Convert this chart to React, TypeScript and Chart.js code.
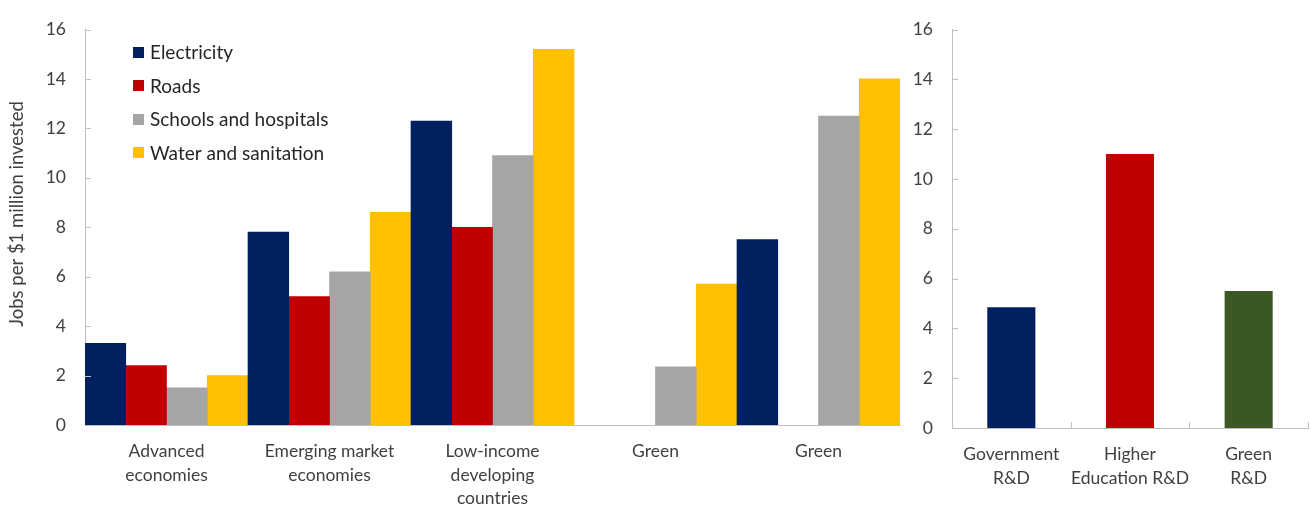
import React, { useEffect, useRef } from "react";
import { Chart, registerables } from "chart.js";

Chart.register(...registerables);

// ---- data ----
const sectorCategories: (string | string[])[] = [
  ["Advanced", "economies"],
  ["Emerging market", "economies"],
  ["Low-income", "developing", "countries"],
  "Green",
  "Green",
];
const electricity: (number | null)[] = [3.3, 7.8, 12.3, null, 7.5];
const roads: (number | null)[] = [2.4, 5.2, 8.0, null, null];
const schoolsHospitals: (number | null)[] = [1.5, 6.2, 10.9, 2.35, 12.5];
const waterSanitation: (number | null)[] = [2.0, 8.6, 15.2, 5.7, 14.0];

const rdCategories: string[][] = [
  ["Government", "R&D"],
  ["Higher", "Education R&D"],
  ["Green", "R&D"],
];
const rdValues: number[] = [4.85, 11.0, 5.5];

const yAxisTitle = "Jobs per $1 million invested";
const yTicksMax = 16;
const yTicksStep = 2;

// ---- styles ----
const NAVY = "#002060";
const RED = "#C00000";
const GREY = "#A5A5A5";
const GOLD = "#FFC000";
const GREEN = "#3A5724";
const AXIS = "#BFBFBF";
const TEXT = "#404040";
const FONT = "Lato, 'Open Sans', sans-serif";

// Tick marks drawn inward from the axes, like a spreadsheet chart.
const insideTicks = {
  id: "insideTicks",
  afterDatasetsDraw(chart: any, _args: any, opts: any) {
    const { ctx } = chart;
    const len = opts.length ?? 6;
    ctx.save();
    ctx.strokeStyle = opts.color ?? AXIS;
    ctx.lineWidth = 1;
    const y = chart.scales.y;
    if (opts.y) {
      y.ticks.forEach((_t: any, i: number) => {
        const py = Math.round(y.getPixelForTick(i)) + 0.5;
        ctx.beginPath();
        ctx.moveTo(y.right, py);
        ctx.lineTo(y.right + len, py);
        ctx.stroke();
      });
    }
    if (opts.xBoundaries) {
      const x = chart.scales.x;
      const n = x.ticks.length;
      for (let i = 1; i <= n; i++) {
        const px = Math.round(x.getPixelForValue(i - 0.5)) + 0.5;
        ctx.beginPath();
        ctx.moveTo(px, x.top);
        ctx.lineTo(px, x.top - len);
        ctx.stroke();
      }
    }
    ctx.restore();
  },
};

// Rotated y-axis title, placed in the left margin.
const sideTitle = {
  id: "sideTitle",
  afterDraw(chart: any, _args: any, opts: any) {
    if (!opts || !opts.text) return;
    const { ctx } = chart;
    ctx.save();
    ctx.translate(opts.x, opts.y);
    ctx.rotate(-Math.PI / 2);
    ctx.font = `${opts.fontSize}px ${FONT}`;
    ctx.fillStyle = opts.color;
    ctx.textAlign = "center";
    ctx.textBaseline = "middle";
    ctx.fillText(opts.text, 0, 0);
    ctx.restore();
  },
};

// Legend drawn as a column of squares inside the plot area.
const boxLegend = {
  id: "boxLegend",
  afterDraw(chart: any, _args: any, opts: any) {
    if (!opts || !opts.display) return;
    const { ctx } = chart;
    ctx.save();
    ctx.font = `${opts.fontSize}px ${FONT}`;
    ctx.textBaseline = "middle";
    ctx.textAlign = "left";
    chart.data.datasets.forEach((ds: any, i: number) => {
      const cy = opts.top + i * opts.rowGap;
      ctx.fillStyle = ds.backgroundColor;
      ctx.fillRect(opts.left, Math.round(cy - opts.box / 2), opts.box, opts.box);
      ctx.fillStyle = opts.color;
      ctx.fillText(ds.label, opts.left + opts.box + opts.gap, cy + 1);
    });
    ctx.restore();
  },
};

function yScale(width: number) {
  return {
    min: 0,
    max: yTicksMax,
    ticks: {
      stepSize: yTicksStep,
      color: TEXT,
      font: { family: FONT, size: 17.5 },
      padding: 19,
    },
    grid: { display: false, drawTicks: false },
    border: { display: true, color: AXIS, width: 1 },
    afterFit(scale: any) {
      scale.width = width;
    },
  };
}

function xScale(height: number) {
  return {
    offset: true,
    ticks: {
      color: TEXT,
      font: { family: FONT, size: 17.5, lineHeight: 1.33 },
      padding: 15,
      maxRotation: 0,
      autoSkip: false,
    },
    grid: { display: false, drawTicks: false },
    border: { display: true, color: AXIS, width: 1 },
    afterFit(scale: any) {
      scale.height = height;
    },
  };
}

export default function App() {
  const leftRef = useRef<HTMLCanvasElement | null>(null);
  const rightRef = useRef<HTMLCanvasElement | null>(null);

  useEffect(() => {
    document.body.style.margin = "0";
    document.body.style.background = "#ffffff";

    const left = new Chart(leftRef.current!, {
      type: "bar",
      data: {
        labels: sectorCategories,
        datasets: [
          { label: "Electricity", data: electricity, backgroundColor: NAVY },
          { label: "Roads", data: roads, backgroundColor: RED },
          { label: "Schools and hospitals", data: schoolsHospitals, backgroundColor: GREY },
          { label: "Water and sanitation", data: waterSanitation, backgroundColor: GOLD },
        ],
      },
      options: {
        animation: false,
        responsive: false,
        maintainAspectRatio: false,
        layout: { padding: { top: 27, right: 10, left: 0, bottom: 0 } },
        datasets: {
          bar: { barPercentage: 1, categoryPercentage: 1, borderWidth: 0 },
        },
        scales: {
          x: xScale(82) as any,
          y: yScale(85) as any,
        },
        plugins: {
          legend: { display: false },
          tooltip: { enabled: false },
          insideTicks: { y: true, xBoundaries: false, length: 6, color: AXIS },
          sideTitle: { text: yAxisTitle, x: 17, y: 214, fontSize: 18.5, color: TEXT },
          boxLegend: {
            display: true,
            left: 133,
            top: 52,
            rowGap: 33.5,
            box: 11,
            gap: 6,
            fontSize: 19,
            color: "#262626",
          },
        } as any,
      },
      plugins: [insideTicks, sideTitle, boxLegend],
    });

    const right = new Chart(rightRef.current!, {
      type: "bar",
      data: {
        labels: rdCategories,
        datasets: [
          {
            label: "R&D",
            data: rdValues,
            backgroundColor: [NAVY, RED, GREEN],
          },
        ],
      },
      options: {
        animation: false,
        responsive: false,
        maintainAspectRatio: false,
        layout: { padding: { top: 28, right: 3, left: 0, bottom: 0 } },
        datasets: {
          bar: { barPercentage: 0.405, categoryPercentage: 1, borderWidth: 0 },
        },
        scales: {
          x: xScale(79) as any,
          y: yScale(42) as any,
        },
        plugins: {
          legend: { display: false },
          tooltip: { enabled: false },
          insideTicks: { y: true, xBoundaries: true, length: 6, color: AXIS },
        } as any,
      },
      plugins: [insideTicks],
    });

    return () => {
      left.destroy();
      right.destroy();
    };
  }, []);

  return (
    <div style={{ position: "relative", width: 1311, height: 507, background: "#fff" }}>
      <canvas
        ref={leftRef}
        width={910}
        height={507}
        style={{ position: "absolute", left: 0, top: 0, width: 910, height: 507 }}
      />
      <canvas
        ref={rightRef}
        width={401}
        height={507}
        style={{ position: "absolute", left: 910, top: 0, width: 401, height: 507 }}
      />
    </div>
  );
}
